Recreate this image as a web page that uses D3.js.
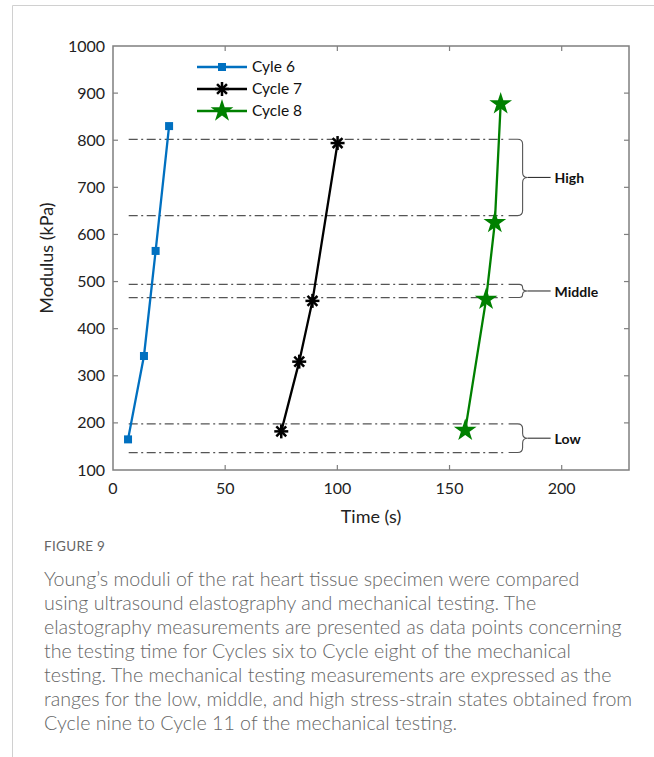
<!DOCTYPE html>
<html><head><meta charset="utf-8">
<script src="https://cdn.jsdelivr.net/npm/d3@7"></script>
<style>
body{margin:0;background:#fff;}
svg{display:block;}
</style></head>
<body>
<svg id="c" width="654" height="757"></svg>
<script>
// ---- data ----
const cycle6T = [6.7, 13.8, 19.0, 25.0];
const cycle6M = [165, 342, 565, 830];
const cycle7T = [75.0, 83.0, 88.9, 100.1];
const cycle7M = [182, 330, 459, 794];
const cycle8T = [157.0, 166.3, 170.2, 172.8];
const cycle8M = [184, 462, 625, 877];
const seriesNames = ["Cyle 6", "Cycle 7", "Cycle 8"];
const rangeNames = ["High", "Middle", "Low"];
const rangeLow  = [640, 466, 137];
const rangeHigh = [802, 494, 198];
const rangeT = [7, 175];
const xTicks = [0, 50, 100, 150, 200];
const yTicks = [100, 200, 300, 400, 500, 600, 700, 800, 900, 1000];
const captionTitle = "FIGURE 9";
const captionLines = [
 "Young\u2019s moduli of the rat heart tissue specimen were compared",
 "using ultrasound elastography and mechanical testing. The",
 "elastography measurements are presented as data points concerning",
 "the testing time for Cycles six to Cycle eight of the mechanical",
 "testing. The mechanical testing measurements are expressed as the",
 "ranges for the low, middle, and high stress-strain states obtained from",
 "Cycle nine to Cycle 11 of the mechanical testing."
];

const svg = d3.select("#c");
const L = 113, R = 629, T = 46, B = 470;
const x = d3.scaleLinear().domain([0, 230]).range([L, R]);
const y = d3.scaleLinear().domain([100, 1000]).range([B, T]);
const font = "Lato, 'Open Sans', sans-serif";
const axisCol = "#7f7f7f";

// frame
svg.append("path").attr("d", "M12.5,757 V5.5 H654").attr("fill","none").attr("stroke","#d0d0d0").attr("stroke-width",1);

// range lines (dash-dot)
const g = svg.append("g");
rangeNames.forEach((n,i)=>{
  [rangeLow[i], rangeHigh[i]].forEach(v=>{
    g.append("line").attr("x1", x(rangeT[0])).attr("x2", x(rangeT[1]))
      .attr("y1", y(v)).attr("y2", y(v))
      .attr("stroke","#555").attr("stroke-width",1.3)
      .attr("stroke-dasharray","9,3.5,2,3.5");
  });
  // curly brace
  const y0 = y(rangeHigh[i]), y1 = y(rangeLow[i]), ym = (y0+y1)/2;
  const xs = x(rangeT[1]) + 3, xb = xs + 14, xt = xb + 5, r = Math.min(5, (y1-y0)/4);
  const d = `M${xs},${y0} H${xb-r} Q${xb},${y0} ${xb},${y0+r} V${ym-r} Q${xb},${ym} ${xt},${ym} Q${xb},${ym} ${xb},${ym+r} V${y1-r} Q${xb},${y1} ${xb-r},${y1} H${xs}`;
  g.append("path").attr("d", d).attr("fill","none").attr("stroke","#555").attr("stroke-width",1.1);
  g.append("line").attr("x1", xt).attr("x2", xt+23).attr("y1", ym).attr("y2", ym).attr("stroke","#333").attr("stroke-width",1.1);
  g.append("text").attr("x", xt+27).attr("y", ym+1).attr("dy","0.35em")
    .attr("font-family", font).attr("font-weight","bold").attr("font-size",14).attr("fill","#111").text(n);
});

// axes
const tickLen = 5;
const ax = svg.append("g");
ax.append("rect").attr("x",L).attr("y",T).attr("width",R-L).attr("height",B-T)
  .attr("fill","none").attr("stroke",axisCol).attr("stroke-width",1.5);
xTicks.forEach(t=>{
  if (t>0) {
    ax.append("line").attr("x1",x(t)).attr("x2",x(t)).attr("y1",B).attr("y2",B-tickLen).attr("stroke",axisCol).attr("stroke-width",1.2);
    ax.append("line").attr("x1",x(t)).attr("x2",x(t)).attr("y1",T).attr("y2",T+tickLen).attr("stroke",axisCol).attr("stroke-width",1.2);
  }
  ax.append("text").attr("x",x(t)).attr("y",B+18).attr("dy","0.35em").attr("text-anchor","middle")
    .attr("font-family",font).attr("font-size",16).attr("fill","#222").text(t);
});
yTicks.forEach(t=>{
  if (t>100 && t<1000) {
    ax.append("line").attr("x1",L).attr("x2",L+tickLen).attr("y1",y(t)).attr("y2",y(t)).attr("stroke",axisCol).attr("stroke-width",1.2);
    ax.append("line").attr("x1",R).attr("x2",R-tickLen).attr("y1",y(t)).attr("y2",y(t)).attr("stroke",axisCol).attr("stroke-width",1.2);
  }
  ax.append("text").attr("x",L-8).attr("y",y(t)).attr("dy","0.35em").attr("text-anchor","end")
    .attr("font-family",font).attr("font-size",16).attr("fill","#222").text(t);
});
ax.append("text").attr("x",(L+R)/2).attr("y",517).attr("dy","0.35em").attr("text-anchor","middle")
  .attr("font-family",font).attr("font-size",18).attr("fill","#222").text("Time (s)");
ax.append("text").attr("transform",`translate(47,${(T+B)/2}) rotate(-90)`).attr("dy","0.35em").attr("text-anchor","middle")
  .attr("font-family",font).attr("font-size",18).attr("fill","#222").text("Modulus (kPa)");

// markers
const starPath = d3.symbol().type(d3.symbolStar).size(160)();
function marker(sel, kind, col){
  if (kind===0) {
    sel.append("rect").attr("x",-4).attr("y",-4).attr("width",8).attr("height",8).attr("fill",col);
  } else if (kind===1) {
    for (let k=0;k<4;k++){
      const a = k*Math.PI/4;
      sel.append("line").attr("x1",-7*Math.cos(a)).attr("y1",-7*Math.sin(a))
        .attr("x2",7*Math.cos(a)).attr("y2",7*Math.sin(a)).attr("stroke",col).attr("stroke-width",2.5);
    }
  } else {
    sel.append("path").attr("d",starPath).attr("fill",col);
  }
}
const series = [
  {t:cycle6T, m:cycle6M, col:"#0070c0"},
  {t:cycle7T, m:cycle7M, col:"#000000"},
  {t:cycle8T, m:cycle8M, col:"#008000"}
];
const line = d3.line().x(d=>x(d[0])).y(d=>y(d[1]));
series.forEach((s,i)=>{
  const pts = s.t.map((t,j)=>[t, s.m[j]]);
  svg.append("path").attr("d", line(pts)).attr("fill","none").attr("stroke",s.col).attr("stroke-width",2.3);
  pts.forEach(p=>{
    marker(svg.append("g").attr("transform",`translate(${x(p[0])},${y(p[1])})`), i, s.col);
  });
});

// legend
const lg = svg.append("g");
seriesNames.forEach((n,i)=>{
  const yy = 67 + i*22;
  lg.append("line").attr("x1",197).attr("x2",247).attr("y1",yy).attr("y2",yy).attr("stroke",series[i].col).attr("stroke-width",2.3);
  marker(lg.append("g").attr("transform",`translate(222,${yy})`), i, series[i].col);
  lg.append("text").attr("x",252).attr("y",yy).attr("dy","0.35em").attr("font-family",font).attr("font-size",15.5).attr("fill","#111").text(n);
});

// caption
const cap = svg.append("g");
cap.append("text").attr("x",44).attr("y",546).attr("dy","0.35em").attr("font-family",font)
  .attr("font-size",13.5).attr("fill","#666").attr("letter-spacing","0.3").text(captionTitle);
const capFont = "Lato, 'Open Sans', sans-serif";
const lines = captionLines.map((s,i)=> cap.append("text").attr("x",44).attr("y",579+i*24).attr("dy","0.35em")
  .attr("font-family",capFont).attr("font-weight",300).attr("font-size",17).attr("fill","#666").text(s));
// fit font size so line 3 spans to x=622
const w = lines[2].node().getComputedTextLength();
const fs = 17 * (578 / w);
lines.forEach(t=>t.attr("font-size", fs));
</script>
</body></html>
